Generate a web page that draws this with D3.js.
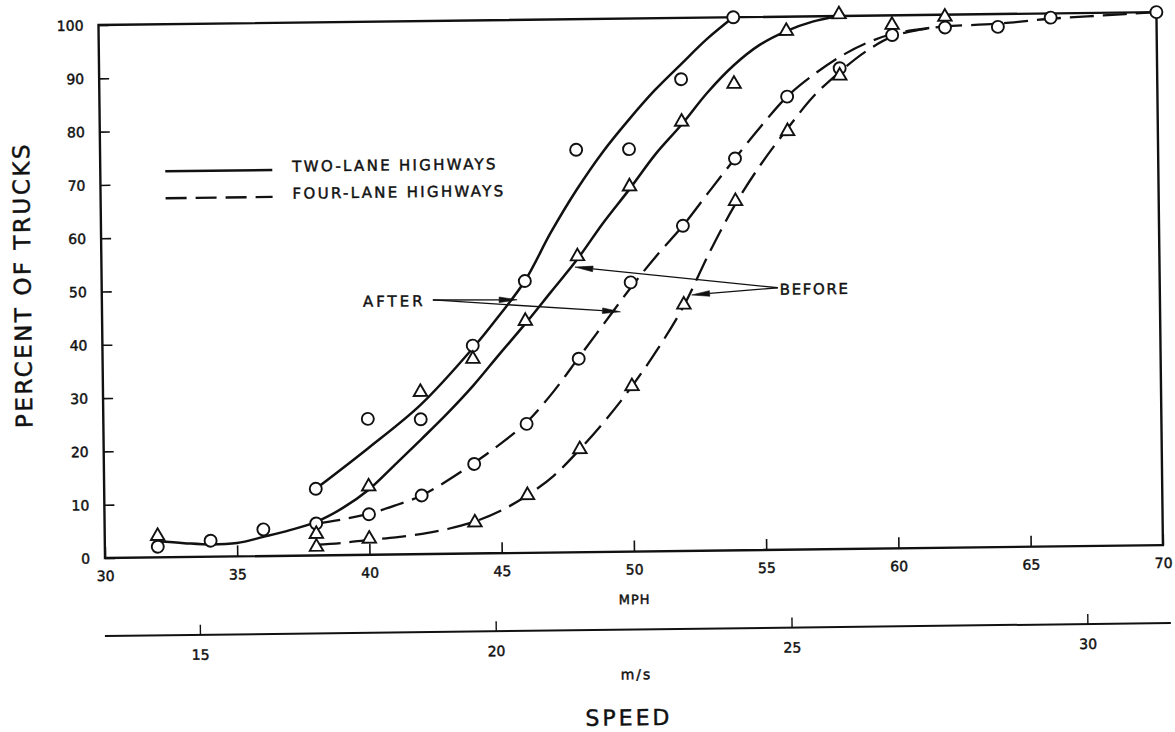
<!DOCTYPE html>
<html>
<head>
<meta charset="utf-8">
<script src="https://cdn.jsdelivr.net/npm/d3@7"></script>
<style>
  html, body { margin: 0; padding: 0; background: #fff; }
  svg { display: block; }
  text { font-family: "DejaVu Sans", sans-serif; fill: #111; stroke: #111; stroke-width: 0.45px; }
</style>
</head>
<body>
<svg id="chart" width="1175" height="732"></svg>
<script>
// ---- axis ticks ----
const mphTicks = [30, 35, 40, 45, 50, 55, 60, 65, 70];
const pctTicks = [0, 10, 20, 30, 40, 50, 60, 70, 80, 90, 100];
const msTicks = [15, 20, 25, 30];
const MS_PER_MPH = 0.44704;

// ---- observed points: [speed mph, percent of trucks] ----
const twoLaneAfterPts = [[32, 2], [34, 3], [36, 5], [38, 12.5], [40, 25.5], [42, 25.3], [44, 39], [46, 51],
  [48, 75.5], [50, 75.5], [52, 88.5], [54, 100]];
const twoLaneBeforePts = [[32, 4], [38, 4], [40, 12.8], [42, 30.4], [44, 36.5], [46, 43.5], [48, 55.5],
  [50, 68.5], [52, 80.5], [54, 87.5], [56, 97.3], [58, 100.3]];
const fourLaneAfterPts = [[38, 6], [40, 7.6], [42, 11], [44, 16.8], [46, 24.2], [48, 36.3], [50, 50.5],
  [52, 61], [54, 73.5], [56, 85], [58, 90.2], [60, 96.3], [62, 97.6], [64, 97.6], [66, 99.2], [70, 100]];
const fourLaneBeforePts = [[38, 1.6], [40, 3], [44, 5.8], [46, 10.8], [48, 19.3], [50, 31], [52, 46.2],
  [54, 65.5], [56, 78.5], [58, 88.8], [60, 98.2], [62, 99.6]];

// ---- smoothed curves: [speed mph, percent of trucks] ----
const twoLaneAfterCurve = [[38, 12.5], [40, 20], [42, 28], [44, 38.5], [45, 44.5], [46, 51], [47, 60],
  [48, 68], [49, 75], [50, 81], [51, 86.5], [52, 91.3], [53, 96], [54, 100]];
const twoLaneBeforeCurve = [[32, 3], [33, 2.6], [34, 2.3], [35, 2.5], [36, 3.6], [37, 4.8], [38, 6.3],
  [39, 8.8], [40, 12.2], [41, 16.8], [42, 21.5], [43, 26.3], [44, 31.5], [45, 37.3], [46, 43], [47, 49],
  [48, 55], [49, 61.8], [50, 68], [51, 74.5], [52, 80], [53, 86], [54, 91], [55, 94.8], [56, 97.3],
  [57, 99], [58, 100]];
const fourLaneAfterCurve = [[38, 6], [39, 6.7], [40, 7.7], [41, 9.2], [42, 11], [43, 13.8], [44, 17],
  [45, 20.5], [46, 24.5], [47, 30], [48, 36.5], [49, 43], [50, 49.5], [51, 55.5], [52, 61], [53, 67.3],
  [54, 73.5], [55, 79.5], [56, 85], [57, 89], [58, 92.3], [59, 94.8], [60, 96.5], [61, 97.3], [62, 97.8],
  [64, 98.2], [66, 99], [68, 99.5], [70, 100]];
const fourLaneBeforeCurve = [[38, 2], [39, 2.3], [40, 2.8], [41, 3.2], [42, 3.8], [43, 4.7], [44, 6],
  [45, 8], [46, 10.8], [47, 14.4], [48, 19.3], [49, 24.8], [50, 31], [51, 38], [52, 46], [53, 56],
  [54, 65], [55, 72.5], [56, 79], [57, 85], [58, 89.5], [59, 93.3], [60, 96], [61, 97.2], [62, 97.8]];

// ---- legend ----
const legendLabels = ["TWO-LANE HIGHWAYS", "FOUR-LANE HIGHWAYS"];

const ink = "#111";
const svg = d3.select("#chart");
// the whole sheet sits slightly tilted
const g = svg.append("g").attr("transform", "rotate(-0.7,105,558)");

const x = d3.scaleLinear().domain([30, 70]).range([105, 1163]);
const y = d3.scaleLinear().domain([0, 100]).range([558, 25]);
const xMs = d3.scaleLinear().domain([30 * MS_PER_MPH, 70 * MS_PER_MPH]).range([105, 1163]);

// frame
g.append("rect")
  .attr("x", x(30)).attr("y", y(100))
  .attr("width", x(70) - x(30)).attr("height", y(0) - y(100))
  .attr("fill", "none").attr("stroke", ink).attr("stroke-width", 2.4);

// x axis (mph)
const xAxis = g.append("g").attr("transform", `translate(0,${y(0)})`)
  .call(d3.axisBottom(x).tickValues(mphTicks).tickSize(-11).tickFormat(d3.format("d")));
xAxis.select(".domain").remove();
xAxis.selectAll(".tick line").attr("stroke", ink).attr("stroke-width", 1.6);
xAxis.selectAll(".tick text").attr("y", 18).attr("dy", "0.35em")
  .style("font-size", "14px").attr("fill", ink);

// y axis (percent)
const yAxis = g.append("g").attr("transform", `translate(${x(30)},0)`)
  .call(d3.axisLeft(y).tickValues(pctTicks).tickSize(-10).tickFormat(d3.format("d")));
yAxis.select(".domain").remove();
yAxis.selectAll(".tick line").attr("stroke", ink).attr("stroke-width", 1.6);
yAxis.selectAll(".tick text").attr("x", -15).attr("dy", "0.35em")
  .style("font-size", "14px").attr("fill", ink);

// secondary speed scale (m/s)
const msY = 636;
g.append("line").attr("x1", 104).attr("x2", 1170).attr("y1", msY).attr("y2", msY)
  .attr("stroke", ink).attr("stroke-width", 2);
const msAxis = g.append("g").attr("transform", `translate(0,${msY})`)
  .call(d3.axisBottom(xMs).tickValues(msTicks).tickSize(-10).tickFormat(d3.format("d")));
msAxis.select(".domain").remove();
msAxis.selectAll(".tick line").attr("stroke", ink).attr("stroke-width", 1.4);
msAxis.selectAll(".tick text").attr("y", 20).attr("dy", "0.35em")
  .style("font-size", "14px").attr("fill", ink);

// axis titles
g.append("text").attr("x", 634).attr("y", 606).attr("text-anchor", "middle")
  .attr("dy", "0.35em").style("font-size", "13px").style("letter-spacing", "1px").text("MPH");
g.append("text").attr("x", 635).attr("y", 681).attr("text-anchor", "middle")
  .attr("dy", "0.35em").style("font-size", "14px").style("letter-spacing", "2px").text("m/s");
g.append("text").attr("x", 627).attr("y", 724).attr("text-anchor", "middle")
  .attr("dy", "0.35em").style("font-size", "22px").style("letter-spacing", "3px").text("SPEED");
g.append("text").attr("transform", "translate(26,284) rotate(-90)").attr("text-anchor", "middle")
  .attr("dy", "0.35em").style("font-size", "23px").style("letter-spacing", "2.5px").text("PERCENT OF TRUCKS");

// curves
const line = d3.line().x(d => x(d[0])).y(d => y(d[1])).curve(d3.curveCatmullRom.alpha(0.5));
const solid = { dash: null, width: 2.5 };
const dashed = { dash: "24,9", width: 2.3 };
[[twoLaneAfterCurve, solid], [twoLaneBeforeCurve, solid],
 [fourLaneAfterCurve, dashed], [fourLaneBeforeCurve, dashed]].forEach(([data, st]) => {
  g.append("path").datum(data).attr("d", line)
    .attr("fill", "none").attr("stroke", ink).attr("stroke-width", st.width)
    .attr("stroke-dasharray", st.dash).attr("stroke-linecap", "butt");
});

// markers
const tri = d3.symbol().type(d3.symbolTriangle).size(78);
function circles(data) {
  g.append("g").selectAll("circle").data(data).join("circle")
    .attr("cx", d => x(d[0])).attr("cy", d => y(d[1])).attr("r", 6)
    .attr("fill", "#fff").attr("stroke", ink).attr("stroke-width", 1.9);
}
function triangles(data) {
  g.append("g").selectAll("path").data(data).join("path")
    .attr("d", tri).attr("transform", d => `translate(${x(d[0])},${y(d[1])})`)
    .attr("fill", "#fff").attr("stroke", ink).attr("stroke-width", 1.9);
}
circles(twoLaneAfterPts);
circles(fourLaneAfterPts);
triangles(twoLaneBeforePts);
triangles(fourLaneBeforePts);

// legend
const legend = g.append("g");
[[solid, 172], [dashed, 199]].forEach(([st, ly], i) => {
  legend.append("line").attr("x1", 170).attr("x2", 277).attr("y1", ly).attr("y2", ly)
    .attr("stroke", ink).attr("stroke-width", st.width).attr("stroke-dasharray", st.dash ? "21,9" : null);
  legend.append("text").attr("x", 297).attr("y", ly + 2)
    .style("font-size", "15px").style("letter-spacing", "2.3px").text(legendLabels[i]);
});

// annotations with arrows
function arrow(x0, y0, tip) {
  const x1 = x(tip[0]), y1 = y(tip[1]);
  const ang = Math.atan2(y1 - y0, x1 - x0);
  const L = 18, W = 2.8;
  const bx = x1 - L * Math.cos(ang), by = y1 - L * Math.sin(ang);
  g.append("line").attr("x1", x0).attr("y1", y0).attr("x2", bx).attr("y2", by)
    .attr("stroke", ink).attr("stroke-width", 1.3);
  const px = -Math.sin(ang) * W, py = Math.cos(ang) * W;
  g.append("path")
    .attr("d", `M${x1},${y1}L${bx + px},${by + py}L${bx - px},${by - py}Z`)
    .attr("fill", ink).attr("stroke", ink).attr("stroke-width", 0.6);
}
g.append("text").attr("x", 366).attr("y", 310).style("font-size", "15px")
  .style("letter-spacing", "3px").text("AFTER");
arrow(436, 304, [45.7, 47.5]);
arrow(436, 304, [49.6, 45]);
g.append("text").attr("x", 783).attr("y", 303).style("font-size", "15px")
  .style("letter-spacing", "1.6px").text("BEFORE");
arrow(781, 296, [47.9, 53.5]);
arrow(781, 296, [52.3, 48]);
</script>
</body>
</html>
